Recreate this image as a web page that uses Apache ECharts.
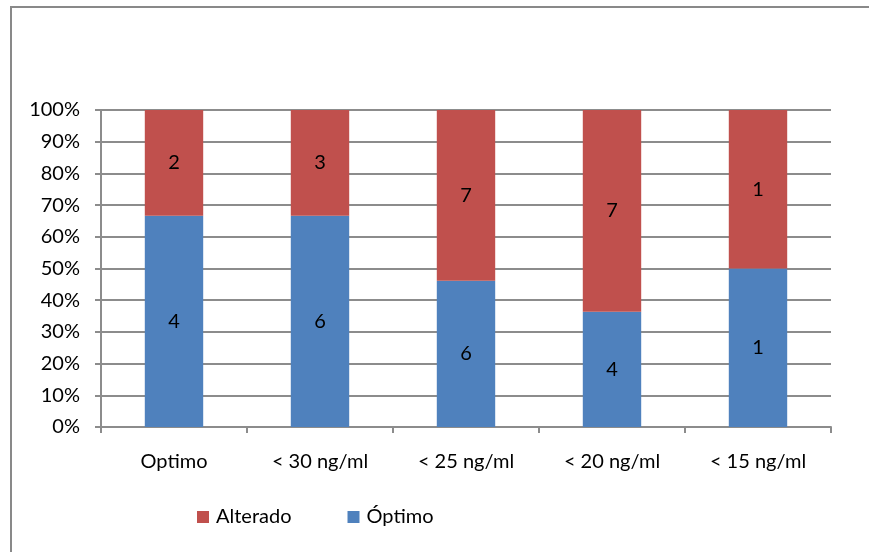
<!DOCTYPE html>
<html>
<head>
<meta charset="utf-8">
<script src="https://cdn.jsdelivr.net/npm/echarts@6/dist/echarts.min.js"></script>
<style>
  html, body { margin: 0; padding: 0; background: #fff; }
  #chart { width: 869px; height: 552px; }
</style>
</head>
<body>
<div id="chart"></div>
<script>
// Vitamin D groups and counts per outcome
const categories = ['Optimo', '< 30 ng/ml', '< 25 ng/ml', '< 20 ng/ml', '< 15 ng/ml'];
const optimoCounts = [4, 6, 6, 4, 1];
const alteradoCounts = [2, 3, 7, 7, 1];
const yTicks = [0, 10, 20, 30, 40, 50, 60, 70, 80, 90, 100];

const FONT = 'Lato';
const FONT_SIZE = 20;
const GRID_COLOR = '#8c8c8c';

// 100% stacked: each segment is its share of the group total
const totals = categories.map((_, i) => optimoCounts[i] + alteradoCounts[i]);
const toShare = (counts) => counts.map((c, i) => ({ value: c / totals[i] * 100, count: c }));

const chart = echarts.init(document.getElementById('chart'), null, { renderer: 'canvas' });

const labelCfg = {
  show: true,
  position: 'inside',
  color: '#000',
  fontFamily: FONT,
  fontSize: FONT_SIZE,
  formatter: (p) => String(p.data.count)
};

chart.setOption({
  animation: false,
  backgroundColor: '#fff',
  textStyle: { fontFamily: FONT },
  graphic: [{
    type: 'rect',
    shape: { x: 11, y: 7, width: 1000, height: 1000 },
    style: { fill: 'none', stroke: '#898989', lineWidth: 2 },
    silent: true
  }],
  grid: { left: 101, right: 38, top: 110, bottom: 125, containLabel: false },
  legend: {
    data: ['Alterado', 'Óptimo'],
    left: 197,
    top: 507,
    padding: 0,
    icon: 'rect',
    itemWidth: 12,
    itemHeight: 12,
    itemGap: 56,
    textStyle: { fontFamily: FONT, fontSize: FONT_SIZE, color: '#000', padding: [0, 0, 0, 2] }
  },
  xAxis: {
    type: 'category',
    data: categories,
    axisLine: { lineStyle: { color: GRID_COLOR, width: 2 } },
    axisTick: { show: true, length: 6, alignWithLabel: false, lineStyle: { color: GRID_COLOR, width: 2 } },
    axisLabel: { color: '#000', fontFamily: FONT, fontSize: FONT_SIZE, margin: 25 },
    splitLine: { show: false }
  },
  yAxis: {
    type: 'value',
    min: yTicks[0],
    max: yTicks[yTicks.length - 1],
    interval: yTicks[1] - yTicks[0],
    axisLine: { show: true, lineStyle: { color: GRID_COLOR, width: 2 } },
    axisTick: { show: true, length: 6, lineStyle: { color: GRID_COLOR, width: 2 } },
    axisLabel: { color: '#000', fontFamily: FONT, fontSize: FONT_SIZE, margin: 21, formatter: '{value}%' },
    splitLine: { show: true, lineStyle: { color: GRID_COLOR, width: 2 } }
  },
  series: [
    {
      name: 'Óptimo',
      type: 'bar',
      stack: 'total',
      barWidth: '40%',
      itemStyle: { color: '#4F81BD' },
      label: labelCfg,
      data: toShare(optimoCounts)
    },
    {
      name: 'Alterado',
      type: 'bar',
      stack: 'total',
      barWidth: '40%',
      itemStyle: { color: '#C0504D' },
      label: labelCfg,
      data: toShare(alteradoCounts)
    }
  ]
});
</script>
</body>
</html>
